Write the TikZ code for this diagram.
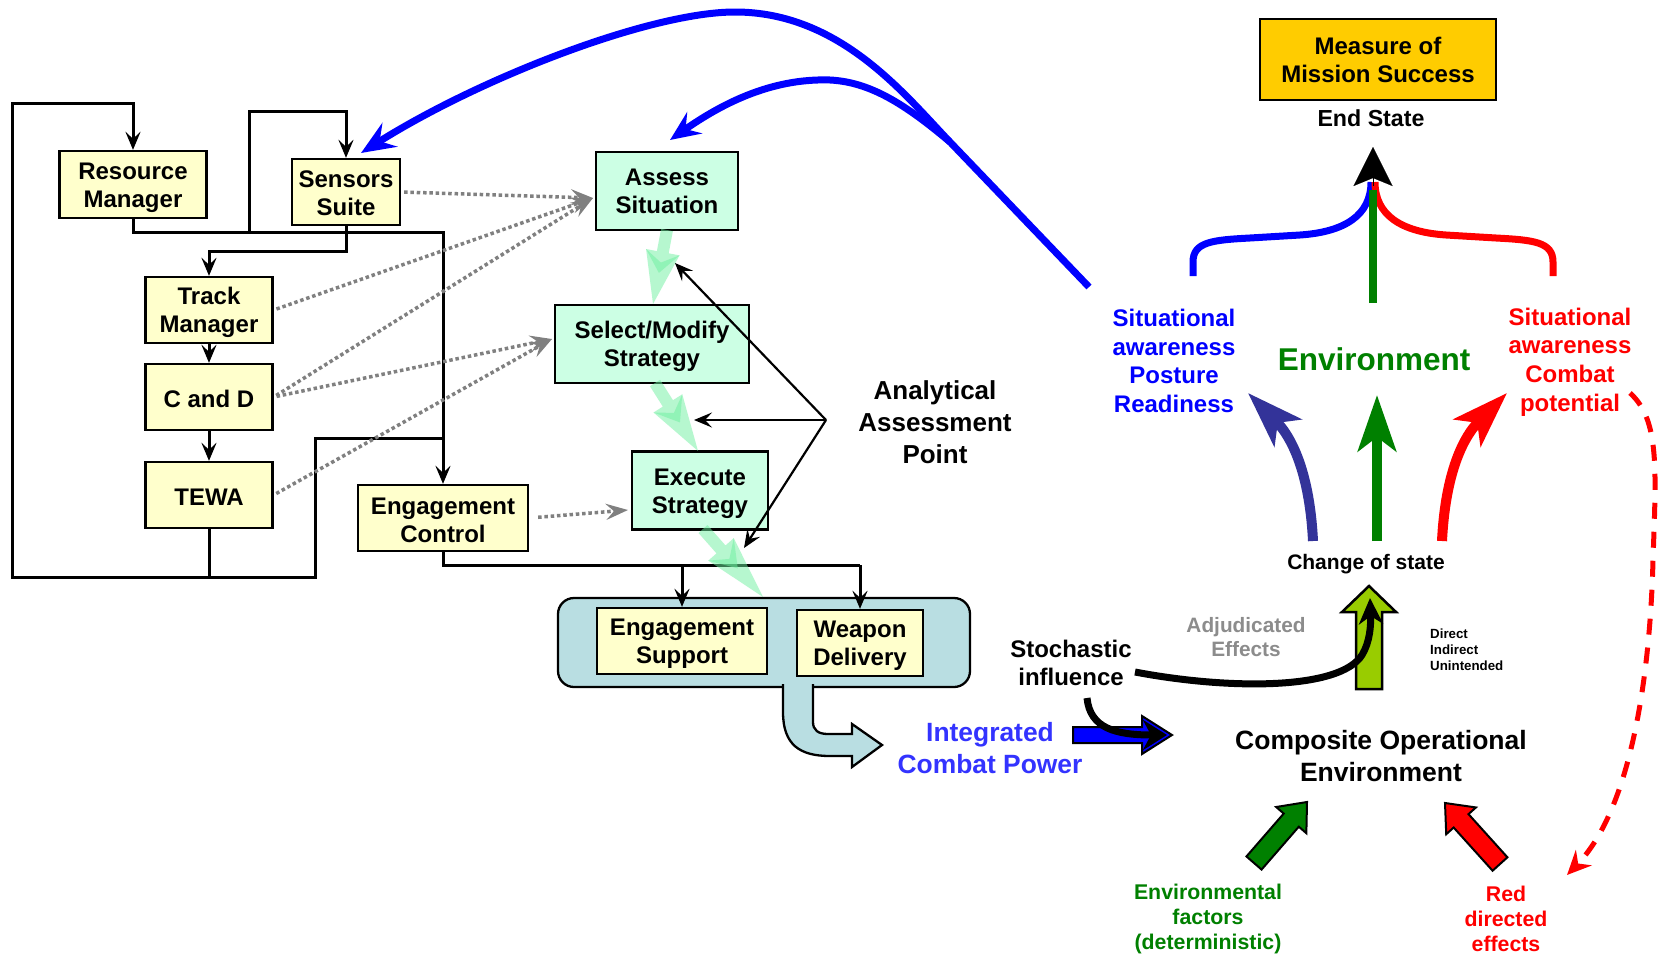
\documentclass[tikz,border=0pt]{standalone}
\usepackage{fontspec}
\setmainfont{Liberation Sans}
\usetikzlibrary{arrows.meta,calc}

\definecolor{boxyellow}{RGB}{255,255,204}
\definecolor{boxmint}{RGB}{204,255,228}
\definecolor{gold}{RGB}{255,204,0}
\definecolor{panel}{RGB}{185,222,226}
\definecolor{flowgreen}{RGB}{110,240,160}
\definecolor{envgreen}{RGB}{0,128,0}
\definecolor{indigo}{RGB}{51,51,153}
\definecolor{icpblue}{RGB}{51,51,255}
\definecolor{limegreen}{RGB}{153,204,0}
\definecolor{dotgrey}{RGB}{128,128,128}
\definecolor{adjgrey}{RGB}{140,140,140}

\newcommand{\fsz}[2]{\bfseries\fontsize{#1}{#2}\selectfont}

% process box: name, box style, centre, width, height, text drop, text
\newcommand{\procbox}[7]{%
  \node[#2, minimum width=#4, minimum height=#5] (#1) at (#3) {};
  \node[lab, font=\fsz{24}{28}] (#1-text) at ($(#1.center)+(0,#6)$) {#7};
}

% translucent flow arrow between two process boxes
\newcommand{\flowarrow}[2]{%
  \coordinate (fA) at ($(#1)!0.3!(#2)$);
  \coordinate (fB) at ($(#1)!0.58!(#2)$);
  \coordinate (fC) at ($(#1)!0.44!(#2)$);
  \fill[flow] ($(#1)!6pt!90:(#2)$) -- ($(fA)!6pt!90:(#2)$) -- ($(fA)!17pt!90:(#2)$)
     -- (#2) -- ($(fA)!17pt!-90:(#2)$) -- ($(fA)!6pt!-90:(#2)$) -- ($(#1)!6pt!-90:(#2)$) -- cycle;
  \fill[flow] ($(fA)!17pt!90:(#2)$) -- (fB) -- ($(fA)!17pt!-90:(#2)$) -- (fC) -- cycle;
}

% outlined block arrow: style, tail, tip, shaft half width, head half width, head length
\newcommand{\blockarr}[6]{%
  \coordinate (bB) at ($(#3)!#6!(#2)$);
  \filldraw[#1] ($(#2)!#4!90:(#3)$) -- ($(bB)!#4!90:(#3)$) -- ($(bB)!#5!90:(#3)$) -- (#3)
     -- ($(bB)!#5!-90:(#3)$) -- ($(bB)!#4!-90:(#3)$) -- ($(#2)!#4!-90:(#3)$) -- cycle;
}

\begin{document}
\begin{tikzpicture}[x=1pt,y=-1pt,
  box/.style={draw=black, line width=2.3pt, inner sep=0pt},
  ybox/.style={box, fill=boxyellow},
  gbox/.style={box, fill=boxmint},
  wire/.style={line width=3pt},
  conn/.style={line width=3pt, -{Stealth[length=18pt,width=15pt,inset=7pt]}},
  probe/.style={line width=2.2pt, -{Stealth[length=18pt,width=15pt,inset=7pt]}},
  feed/.style={dotgrey, line width=3.5pt, dash pattern=on 3.5pt off 2.8pt, shorten <=3pt,
    -{Stealth[length=22pt,width=16pt,inset=8pt]}},
  flow/.style={flowgreen, opacity=0.5},
  lab/.style={align=center, inner sep=0pt},
  blockline/.style={draw=black, line width=2pt, line join=miter},
  bigarc/.style={blue, line width=7pt, -{Stealth[length=34pt,width=28pt,inset=12pt]}},
  lift/.style={line width=10pt, -{Stealth[length=56pt,width=38pt,inset=14pt]}}
]
\useasboundingbox (0,0) rectangle (1666,956);
\fill[white] (0,0) rectangle (1666,956);

% ---------- combat system boxes ----------
\procbox{rm}{ybox}{133,184.5}{147pt}{67pt}{3}{Resource\\Manager}
\procbox{ss}{ybox}{346,192}{108pt}{66pt}{1.5}{Sensors\\Suite}
\procbox{tm}{ybox}{209,310}{127pt}{66pt}{2.5}{Track\\Manager}
\procbox{cd}{ybox}{209,397}{127pt}{66pt}{2}{C and D}
\procbox{tewa}{ybox}{209,495}{127pt}{66pt}{2}{TEWA}
\procbox{ec}{ybox}{443,518}{170pt}{66pt}{2.5}{Engagement\\Control}

\procbox{as}{gbox}{667,191}{142pt}{78pt}{0.5}{Assess\\Situation}
\procbox{sms}{gbox}{652,344}{194pt}{78pt}{2.5}{Select/Modify\\Strategy}
\procbox{exs}{gbox}{700,490.5}{136pt}{78pt}{3}{Execute\\Strategy}

% engagement panel with its outgoing bent arrow
\filldraw[fill=panel, draw=black, line width=2.3pt, rounded corners=16pt] (558,598) rectangle (970,687);
\filldraw[fill=panel, draw=black, line width=2.3pt, line join=miter]
  (783,684) -- (783,712) .. controls (783,745) and (800,756) .. (830,756) -- (852,756)
  -- (852,767) -- (882,745) -- (852,724) -- (852,734) -- (828,734)
  .. controls (818,734) and (813,730) .. (813,722) -- (813,684);
\coordinate (icpTip) at (882,745);
\procbox{esup}{ybox}{682,641}{170pt}{66pt}{3}{Engagement\\Support}
\procbox{wd}{ybox}{860,643}{126pt}{66pt}{3}{Weapon\\Delivery}

% ---------- control wiring ----------
\coordinate (loopS) at (209,577);
\draw[conn] (tewa.south) -- (loopS) -| (12,103) -| (rm.north);
\draw[wire] (loopS) -| (315,438) -- (443,438);
\coordinate (rmTap) at (249,232);
\draw[conn] (rm.south) |- (443,232) -- (ec.north);
\draw[conn] (rmTap) -- (249,111) -| (ss.north);
\draw[conn] (ss.south) -- (346,251) -| (tm.north);
\draw[conn] (tm) -- (cd);
\draw[conn] (cd) -- (tewa);
\coordinate (busE) at (682,565);
\coordinate (busW) at (860,565);
\draw[wire] (ec.south) |- (busW);
\draw[conn] (busE) -- (esup.north);
\draw[conn] (busW) -- (wd.north);

% ---------- information feeds ----------
\coordinate (asIn) at (593,198);
\coordinate (smIn) at (552,339);
\coordinate (exIn) at (628,510);
\draw[feed] (ss.east) -- (asIn);
\draw[feed] (tm.east) -- (asIn);
\draw[feed] (cd.east) -- (asIn);
\draw[feed] (cd.east) -- (smIn);
\draw[feed] (tewa.east) -- (smIn);
\draw[feed, shorten <=9pt] (ec.east) -- (exIn);

% ---------- decision cycle flow ----------
\coordinate (f1s) at (667,230); \coordinate (f1e) at (653,304);
\coordinate (f2s) at (655,383); \coordinate (f2e) at (698,451);
\coordinate (f3s) at (703,529); \coordinate (f3e) at (763,597);
\flowarrow{f1s}{f1e}
\flowarrow{f2s}{f2e}
\flowarrow{f3s}{f3e}

% analytical assessment point
\node[lab, font=\fsz{26}{32}] (aap) at (935,422) {Analytical\\Assessment\\Point};
\coordinate (aapv) at (826,420);
\coordinate (aap1) at (675,263);
\coordinate (aap2) at (694,420);
\coordinate (aap3) at (744,548);
\draw[probe] (aapv) -- (aap1);
\draw[probe] (aapv) -- (aap2);
\draw[probe] (aapv) -- (aap3);

% ---------- end state ----------
\node[box, fill=gold, line width=2.8pt, minimum width=236pt, minimum height=81pt] (mms) at (1378,59.5) {};
\node[lab, font=\fsz{24}{28}] (mms-text) at (1378,60) {Measure of\\Mission Success};
\node[lab, font=\fsz{23.2}{27}] (es) at (1371,118) {End State};

\node[lab, font=\fsz{24}{28.7}, blue] (sab) at (1174,361) {Situational\\awareness\\Posture\\Readiness};
\node[lab, font=\fsz{24}{28.7}, red] (sar) at (1570,362) {Situational\\awareness\\Combat\\potential};
\node[lab, font=\fsz{31.5}{36}, envgreen] (env) at (1374,359) {Environment};

\draw[blue, line width=7pt] (1193,276) -- (1193,262) .. controls (1193,242) and (1212,240) .. (1250,238)
  -- (1300,235) .. controls (1345,232) and (1371,215) .. (1371,182);
\draw[red, line width=7pt] (1553,276) -- (1553,262) .. controls (1553,242) and (1534,240) .. (1496,238)
  -- (1446,235) .. controls (1401,232) and (1375,215) .. (1375,182);
\draw[envgreen, line width=8pt] (1373,303) -- (1373,190);
\coordinate (esJoin) at (1373,186);
\coordinate (esTip) at (1373,147);
\draw[line width=0.1pt, -{Stealth[length=39pt,width=39pt,inset=8pt]}] (esJoin) -- (esTip);

% ---------- change of state ----------
\node[lab, font=\fsz{21}{25}] (cos) at (1366,564) {Change of state};
\coordinate (cosL) at (1313,541);
\coordinate (cosM) at (1377,541);
\coordinate (cosR) at (1442,541);
\draw[lift, indigo] (cosL) .. controls (1310,480) and (1295,440) .. (1248,393);
\draw[lift, envgreen] (cosM) -- (1377,395);
\draw[lift, red] (cosR) .. controls (1445,480) and (1460,440) .. (1507,393);

\coordinate (adjTail) at (1369,689);
\coordinate (adjTip) at (1369,586);
\blockarr{blockline, fill=limegreen, line width=2.5pt}{adjTail}{adjTip}{13pt}{27pt}{26pt}

\node[lab, font=\fsz{20.8}{24}, adjgrey] (adj) at (1246,637) {Adjudicated\\Effects};
\node[anchor=west, align=left, inner sep=0pt, font=\fsz{13.3}{16}] (die) at (1430,650) {Direct\\Indirect\\Unintended};

% ---------- operational environment ----------
\node[lab, font=\fsz{24}{28}] (sto) at (1071,663) {Stochastic\\influence};
\node[lab, font=\fsz{26.4}{32}, icpblue] (icp) at (990,748) {Integrated\\Combat Power};
\node[lab, font=\fsz{26.5}{32}] (coe) at (1381,756) {Composite Operational\\Environment};
\node[lab, font=\fsz{21.3}{25}, envgreen] (efd) at (1208,919) {Environmental\\factors\\(deterministic)};
\node[lab, font=\fsz{21.3}{25}, red] (rde) at (1506,919) {Red\\directed\\effects};

\coordinate (icpTail) at (1073,735);
\coordinate (icpHead) at (1172,735);
\blockarr{blockline, fill=blue}{icpTail}{icpHead}{8pt}{19pt}{30pt}

\draw[line width=7pt, -{Stealth[length=26pt,width=24pt,inset=8pt]}]
  (1135,672) .. controls (1230,690) and (1340,690) .. (1362,655)
  .. controls (1370,642) and (1371,625) .. (1370,598);
\draw[line width=7pt, -{Stealth[length=24pt,width=30pt,inset=8pt]}]
  (1087,698) .. controls (1090,728) and (1115,735) .. (1167,735);

\coordinate (envTail) at (1254,863);
\coordinate (envTip) at (1307,802);
\blockarr{blockline, fill=envgreen}{envTail}{envTip}{10pt}{20pt}{24pt}
\coordinate (redTail) at (1500,864);
\coordinate (redTip) at (1445,803);
\blockarr{blockline, fill=red}{redTail}{redTip}{10pt}{20pt}{24pt}

\draw[red, line width=5pt, dash pattern=on 16pt off 13pt, -{Stealth[length=24pt,width=22pt,inset=8pt]}]
  (1630,393) .. controls (1660,420) and (1656,470) .. (1653,560)
  .. controls (1650,680) and (1630,810) .. (1567,875);

% ---------- feedback to sensing and assessment ----------
\coordinate (fbStart) at (1089,287);
\coordinate (fbSplit) at (950,142);
\draw[bigarc] (fbStart) -- (fbSplit) .. controls (905,95) and (840,12) .. (735,12)
  .. controls (650,12) and (480,78) .. (361,153);
\draw[bigarc, -{Stealth[length=30pt,width=26pt,inset=11pt]}] (fbSplit) .. controls (905,104) and (870,82) .. (830,80)
  .. controls (770,78) and (720,105) .. (670,140);

\end{tikzpicture}
\end{document}
